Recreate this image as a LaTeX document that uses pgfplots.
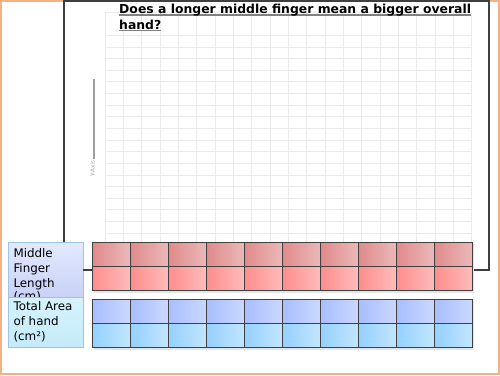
\documentclass[border=0pt]{standalone}
\usepackage{fontspec}
\setmainfont{DejaVu Sans}
\usepackage{pgfplots}
\pgfplotsset{compat=1.18}
\definecolor{redTopL}{HTML}{E08A8A}
\definecolor{redTopR}{HTML}{EBB8B8}
\definecolor{redBotL}{HTML}{FF8C8C}
\definecolor{redBotR}{HTML}{FFBBBB}
\definecolor{bluTopL}{HTML}{A7BEFF}
\definecolor{bluTopR}{HTML}{CAD8FF}
\definecolor{bluBotL}{HTML}{94D0FF}
\definecolor{bluBotR}{HTML}{C2E5FF}
\definecolor{boxAtop}{HTML}{E2EAFF}
\definecolor{boxAbot}{HTML}{C9D1F6}
\definecolor{boxBtop}{HTML}{D6F3FD}
\definecolor{boxBbot}{HTML}{C4EBF8}
\definecolor{boxBorder}{HTML}{9DC3E6}
\definecolor{pageOrange}{HTML}{F4B183}
\definecolor{frameBlack}{HTML}{3F3F3F}
\definecolor{gridGray}{HTML}{EBEBEB}
\newcommand\ul[1]{\setbox0\hbox{#1}\rlap{\textcolor{black!50}{\rule[-2.3pt]{\wd0}{1.3pt}}}\box0}
\begin{document}
\begin{tikzpicture}[x=1pt,y=1pt]
\useasboundingbox (0,0) rectangle (500,375);
% empty graph grid
\begin{axis}[at={(105pt,130.4pt)}, anchor=south west, scale only axis,
  width=366.7pt, height=232.6pt,
  xmin=0, xmax=20, ymin=0, ymax=20,
  xtick={0,...,20}, ytick={0,...,18,20},
  xticklabels={}, yticklabels={}, major tick length=0pt,
  grid=major, major grid style={line width=0.6pt, color=gridGray},
  axis line style={draw=none}]
  \addplot[draw=none] coordinates {(0,0)};
\end{axis}
% page overlay in pixel coordinates
\begin{axis}[at={(0pt,0pt)}, anchor=south west, scale only axis,
  width=500pt, height=375pt,
  xmin=0, xmax=500, ymin=0, ymax=375, y dir=reverse,
  hide axis, clip=false]
  \addplot[draw=none] coordinates {(0,0)};
  % page border
  \draw[pageOrange, line width=2pt] (axis cs:1,1) rectangle (axis cs:499,374);
  % black frame
  \draw[frameBlack, line width=2pt] (axis cs:63.5,1) rectangle (axis cs:489,270);
  % title
  \node[anchor=base west, inner sep=0pt, font=\fontsize{12.4}{15}\selectfont\bfseries]
    at (axis cs:119,13.3) {\ul{Does a longer middle finger mean a bigger overall}};
  \node[anchor=base west, inner sep=0pt, font=\fontsize{12.4}{15}\selectfont\bfseries]
    at (axis cs:119,29) {\ul{hand?}};
  % y axis label
  \node[anchor=base west, inner sep=0pt, rotate=90, text=black!38,
    font=\fontsize{5.6}{6}\selectfont]
    at (axis cs:94.5,177) {Y-Axis:\rule{80pt}{1.2pt}};
  % label box 1
  \shade[top color=boxAtop, bottom color=boxAbot] (axis cs:8,242.3) rectangle (axis cs:83,297);
  \draw[boxBorder, line width=1pt] (axis cs:8,242.3) rectangle (axis cs:83,297);
  \node[anchor=base west, inner sep=0pt, font=\fontsize{11.9}{15}\selectfont] at (axis cs:13.3,257) {Middle};
  \node[anchor=base west, inner sep=0pt, font=\fontsize{11.9}{15}\selectfont] at (axis cs:13.3,272) {Finger};
  \node[anchor=base west, inner sep=0pt, font=\fontsize{11.9}{15}\selectfont] at (axis cs:13.3,287) {Length};
  \node[anchor=base west, inner sep=0pt, font=\fontsize{11.9}{15}\selectfont] at (axis cs:13.3,300) {(cm)};
  % label box 2 (covers overflowing text of box 1)
  \shade[top color=boxBtop, bottom color=boxBbot] (axis cs:8,297) rectangle (axis cs:83,347.5);
  \draw[boxBorder, line width=1pt] (axis cs:8,297) rectangle (axis cs:83,347.5);
  \node[anchor=base west, inner sep=0pt, font=\fontsize{11.9}{15}\selectfont] at (axis cs:13.3,310.9) {Total Area};
  \node[anchor=base west, inner sep=0pt, font=\fontsize{11.9}{15}\selectfont] at (axis cs:13.3,325.7) {of hand};
  \node[anchor=base west, inner sep=0pt, font=\fontsize{11.9}{15}\selectfont] at (axis cs:13.3,340.2) {(cm²)};
  % connector (bottom of frame between box and table)
  \draw[frameBlack, line width=2pt] (axis cs:83,270) -- (axis cs:92,270);
  % shadows
  \fill[black!10] (axis cs:93.5,244) rectangle (axis cs:473.5,293);
  \fill[black!10] (axis cs:93.5,301) rectangle (axis cs:473.5,349.5);
  % table cells
  \pgfplotsinvokeforeach{0,...,9}{
    \shade[left color=redTopL, right color=redTopR] (axis cs:{92+38*#1},242.3) rectangle (axis cs:{130+38*#1},266.7);
    \shade[left color=redBotL, right color=redBotR] (axis cs:{92+38*#1},266.7) rectangle (axis cs:{130+38*#1},290.8);
    \shade[left color=bluTopL, right color=bluTopR] (axis cs:{92+38*#1},299.3) rectangle (axis cs:{130+38*#1},323.7);
    \shade[left color=bluBotL, right color=bluBotR] (axis cs:{92+38*#1},323.7) rectangle (axis cs:{130+38*#1},347.8);
    \draw[black!75, line width=1pt] (axis cs:{92+38*#1},242.3) -- (axis cs:{92+38*#1},290.8);
    \draw[black!75, line width=1pt] (axis cs:{92+38*#1},299.3) -- (axis cs:{92+38*#1},347.8);
  }
  \draw[black!75, line width=1pt] (axis cs:92,242.3) rectangle (axis cs:472,290.8);
  \draw[black!75, line width=1pt] (axis cs:92,266.7) -- (axis cs:472,266.7);
  \draw[black!75, line width=1pt] (axis cs:92,299.3) rectangle (axis cs:472,347.8);
  \draw[black!75, line width=1pt] (axis cs:92,323.7) -- (axis cs:472,323.7);
\end{axis}
\end{tikzpicture}
\end{document}
